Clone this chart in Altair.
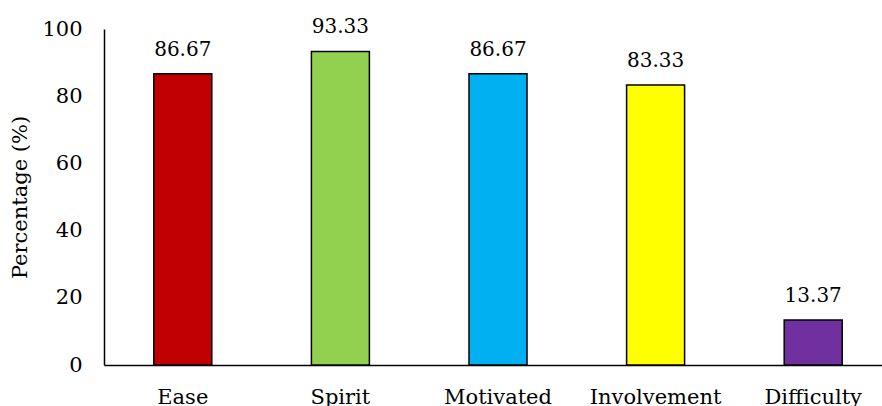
import altair as alt
import pandas as pd

# Survey responses per category (percentage of respondents)
categories = ["Ease", "Spirit", "Motivated", "Involvement", "Difficulty"]
percentages = [86.67, 93.33, 86.67, 83.33, 13.37]
bar_colors = ["#C00000", "#92D050", "#00B0F0", "#FFFF00", "#7030A0"]

df = pd.DataFrame({"category": categories, "pct": percentages})

FONT = "DejaVu Serif"

x_enc = alt.X(
    "category:N",
    sort=categories,
    title=None,
    scale=alt.Scale(range=[0, 788], paddingInner=0.632, paddingOuter=0.316),
    axis=alt.Axis(
        labelAngle=0,
        ticks=False,
        tickSize=0,
        labelPadding=38,
        labelBaseline="alphabetic",
        labelFont=FONT,
        labelFontSize=21,
        labelColor="black",
        domainColor="black",
        domainWidth=1.5,
    ),
)

y_enc = alt.Y(
    "pct:Q",
    title="Percentage (%)",
    scale=alt.Scale(domain=[0, 100], nice=False),
    axis=alt.Axis(
        values=[0, 20, 40, 60, 80, 100],
        grid=False,
        ticks=False,
        tickSize=0,
        labelPadding=22,
        labelFont=FONT,
        labelFontSize=21,
        labelColor="black",
        domainColor="black",
        domainWidth=1.5,
        titleFont=FONT,
        titleFontSize=21,
        titleFontWeight="normal",
        titleColor="black",
        titlePadding=11,
    ),
)

bars = alt.Chart(df).mark_bar(stroke="black", strokeWidth=1.5).encode(
    x=x_enc,
    y=y_enc,
    color=alt.Color(
        "category:N",
        scale=alt.Scale(domain=categories, range=bar_colors),
        legend=None,
    ),
)

labels = alt.Chart(df).mark_text(
    font=FONT, fontSize=20, color="black", baseline="alphabetic", dy=-18
).encode(
    x=alt.X("category:N", sort=categories),
    y=alt.Y("pct:Q"),
    text=alt.Text("pct:Q", format=".2f"),
)

chart = (
    alt.layer(bars, labels)
    .properties(
        width=778,
        height=336,
        autosize=alt.AutoSizeParams(type="none"),
        padding={"left": 104, "top": 29, "right": 0, "bottom": 41},
        background="white",
    )
    .configure_view(strokeWidth=0)
)

chart.save("out.html", embed_options={"renderer": "svg", "actions": False})
